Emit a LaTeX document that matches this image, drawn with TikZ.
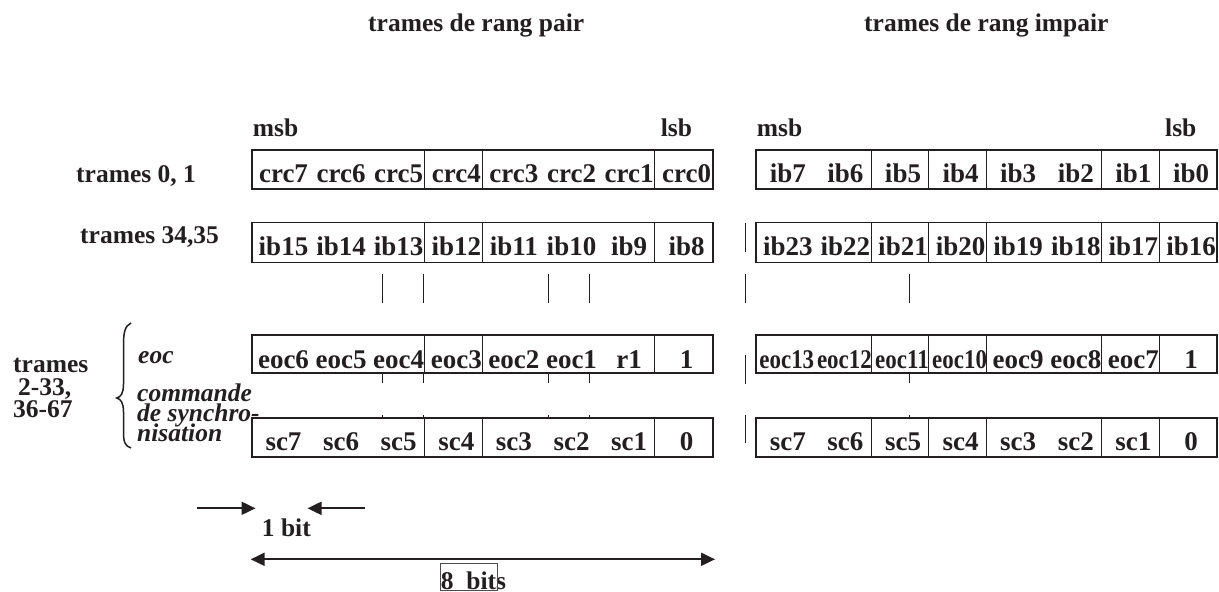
\documentclass[tikz,border=0pt]{standalone}
\usepackage{fontspec}
\usepackage{graphicx}
\setmainfont{Liberation Serif}
\usetikzlibrary{arrows.meta}
\definecolor{ink}{HTML}{231F20}
\begin{document}
\begin{tikzpicture}[x=1pt,y=-1pt,
  outer/.style={draw=ink,line width=1.7pt},
  divl/.style={draw=ink,line width=1pt},
  tick/.style={draw=ink,line width=0.9pt},
  cell/.style={anchor=base,inner sep=0pt,text=ink,font=\fontsize{27}{30}\selectfont\bfseries},
  lbl/.style={anchor=base west,inner sep=0pt,text=ink,font=\fontsize{25.5}{28}\selectfont\bfseries},
  ilbl/.style={anchor=base west,inner sep=0pt,text=ink,font=\fontsize{25.5}{28}\selectfont\bfseries\itshape},
  arr/.style={draw=ink,line width=2pt,-{Triangle[length=14pt,width=13pt]}},
  darr/.style={draw=ink,line width=2pt,{Triangle[length=14pt,width=13pt]}-{Triangle[length=14pt,width=13pt]}},
]
\useasboundingbox (0,0) rectangle (1219,592);

% titles
\node[lbl] (tpair) at (368,31) {trames de rang pair};
\node[lbl] (timpair) at (864,31) {trames de rang impair};

% msb / lsb
\node[lbl] (msbL) at (252.7,136.7) {msb};
\node[lbl] (lsbL) at (660.7,136.7) {lsb};
\node[lbl] (msbR) at (756.7,136.7) {msb};
\node[lbl] (lsbR) at (1165,136.7) {lsb};

% row labels
\node[lbl] (tr01) at (76,182.2) {trames 0, 1};
\node[lbl] (tr3435) at (80,243.3) {trames 34,35};
\node[lbl] (trA) at (13,372.7) {trames};
\node[lbl] (trB) at (18,395) {2-33,};
\node[lbl] (trC) at (13,417) {36-67};
\node[ilbl] (ieoc) at (138,363.3) {eoc};
\node[ilbl] (icom) at (137,401.7) {commande};
\node[ilbl] (isyn) at (137,421.7) {de synchro-};
\node[ilbl] (inis) at (137,441.7) {nisation};

% brace
\draw[ink,line width=1.5pt] (131,323) .. controls (125,326) and (123.5,332) .. (123.5,345)
  -- (123.5,384) .. controls (123.5,393) and (121,397) .. (116.7,398)
  .. controls (121,399) and (123.5,403) .. (123.5,412)
  -- (123.5,432) .. controls (123.5,442) and (125,446) .. (131,448);

% boxes: rows (top, height)
\foreach \top/\h in {150/39, 222.5/40, 335/38, 417.7/39}{
  \draw[outer] (251.7,\top) rectangle ++(461,\h);
  \foreach \k in {3,4,7} \draw[divl] ({251.7+\k*57.6},\top) -- ++(0,\h);
  \draw[outer] (756,\top) rectangle ++(460.8,\h);
  \foreach \k in {2,3,4,6,7} \draw[divl] ({756+\k*57.6},\top) -- ++(0,\h);
}

% row 1
\foreach \t [count=\i from 0] in {crc7,crc6,crc5,crc4,crc3,crc2,crc1,crc0}
  \node[cell] (a\i) at ({251.7+(\i+0.5)*57.6+3},182.7) {\t};
\foreach \t [count=\i from 0] in {ib7,ib6,ib5,ib4,ib3,ib2,ib1,ib0}
  \node[cell] (ar\i) at ({756+(\i+0.5)*57.6+3},182.7) {\t};
% row 2
\foreach \t [count=\i from 0] in {ib15,ib14,ib13,ib12,ib11,ib10,ib9,ib8}
  \node[cell] (b\i) at ({251.7+(\i+0.5)*57.6+3},255.7) {\t};
\foreach \t [count=\i from 0] in {ib23,ib22,ib21,ib20,ib19,ib18,ib17,ib16}
  \node[cell] (br\i) at ({756+(\i+0.5)*57.6+3},255.7) {\t};
% row eoc
\foreach \t [count=\i from 0] in {eoc6,eoc5,eoc4,eoc3,eoc2,eoc1,r1,1}
  \node[cell] (c\i) at ({251.7+(\i+0.5)*57.6+3},368) {\t};
\foreach \t [count=\i from 0] in {eoc13,eoc12,eoc11,eoc10}
  \node[cell] (cr\i) at ({756+(\i+0.5)*57.6+2},368) {\scalebox{0.85}[1]{\t}};
\foreach \t [count=\i from 4] in {eoc9,eoc8,eoc7,1}
  \node[cell] (cr\i) at ({756+(\i+0.5)*57.6+3},368) {\t};
% row sc
\foreach \t [count=\i from 0] in {sc7,sc6,sc5,sc4,sc3,sc2,sc1,0}
  \node[cell] (d\i) at ({251.7+(\i+0.5)*57.6+3},450) {\t};
\foreach \t [count=\i from 0] in {sc7,sc6,sc5,sc4,sc3,sc2,sc1,0}
  \node[cell] (dr\i) at ({756+(\i+0.5)*57.6+3},450) {\t};

% tick segments
\foreach \x in {382.7,423.3,548.7,589.3,909.5,745} \draw[tick] (\x,274) -- (\x,302.7);
\foreach \x in {382.7,423.3,548.7,589.3,909.5}{
  \draw[tick] (\x,373) -- (\x,383);
  \draw[tick] (\x,415) -- (\x,417.7);
}
\draw[tick] (745,223) -- (745,251.7);
\draw[tick] (745,355) -- (745,384);
\draw[tick] (745,415) -- (745,443);

% bit scale arrows
\coordinate (a1s) at (197.3,508.3);
\coordinate (a1e) at (255.5,508.3);
\coordinate (a2s) at (365,508.3);
\coordinate (a2e) at (307.5,508.3);
\draw[arr] (a1s) -- (a1e);
\draw[arr] (a2s) -- (a2e);
\node[lbl] (onebit) at (261.7,536.7) {1 bit};
\coordinate (b8l) at (250.7,559.3);
\coordinate (b8r) at (715,559.3);
\draw[darr] (b8l) -- (b8r);
\node[lbl] (eightbits) at (440.7,589.3) {8\ \ bits};
\draw[ink!80,line width=0.6pt] (440.7,563.3) rectangle (497.7,590);
\end{tikzpicture}
\end{document}
